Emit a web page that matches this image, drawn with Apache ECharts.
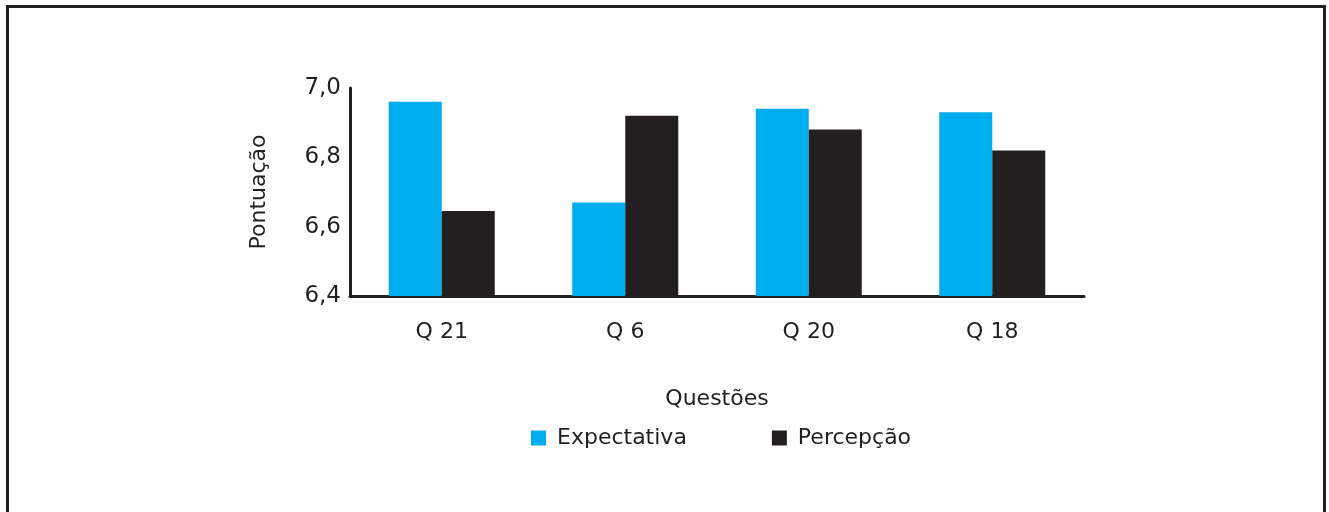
<!DOCTYPE html>
<html>
<head>
<meta charset="utf-8">
<script src="https://cdn.jsdelivr.net/npm/echarts@6/dist/echarts.min.js"></script>
<style>
  html, body { margin: 0; padding: 0; background: #fff; }
  #frame {
    position: absolute; left: 6px; top: 5px; width: 1320px; height: 520px;
    border-top: 3px solid #231f20; border-left: 3px solid #231f20; border-right: 3px solid #231f20;
    box-sizing: border-box;
  }
  #chart { position: absolute; left: 0; top: 0; width: 1329px; height: 512px; }
</style>
</head>
<body>
<div id="frame"></div>
<div id="chart"></div>
<script>
// Scores per question
const categories = ['Q 21', 'Q 6', 'Q 20', 'Q 18'];
const expectativa = [6.96, 6.67, 6.94, 6.93];
const percepcao = [6.645, 6.92, 6.88, 6.82];
const yTicks = { min: 6.4, max: 7.0, interval: 0.2 };

const ink = '#231f20';
const font = 'DejaVu Sans';

const chart = echarts.init(document.getElementById('chart'), null, { renderer: 'canvas' });
chart.setOption({
  animation: false,
  textStyle: { fontFamily: font, color: ink },
  grid: { left: 350, right: 245, top: 88, bottom: 216, containLabel: false },
  legend: {
    top: 422,
    left: 526,
    itemWidth: 15,
    itemHeight: 15,
    itemGap: 85,
    icon: 'rect',
    textStyle: { fontFamily: font, fontSize: 22, color: ink, padding: [0, 0, 0, 6] },
    data: ['Expectativa', 'Percepção']
  },
  xAxis: {
    type: 'category',
    data: categories,
    name: 'Questões',
    nameLocation: 'middle',
    nameGap: 92,
    nameTextStyle: { fontFamily: font, fontSize: 22, color: ink },
    axisLine: { lineStyle: { color: ink, width: 3 } },
    axisTick: { show: false },
    axisLabel: { fontFamily: font, fontSize: 22, color: ink, margin: 25 }
  },
  yAxis: {
    type: 'value',
    min: yTicks.min,
    max: yTicks.max,
    interval: yTicks.interval,
    name: 'Pontuação',
    nameLocation: 'middle',
    nameGap: 80,
    nameRotate: 90,
    nameTextStyle: { fontFamily: font, fontSize: 22, color: ink },
    axisLine: { show: true, lineStyle: { color: ink, width: 3 } },
    axisTick: { show: false },
    splitLine: { show: false },
    axisLabel: {
      fontFamily: font, fontSize: 23, color: ink, margin: 9,
      formatter: v => v.toFixed(1).replace('.', ',')
    }
  },
  series: [
    {
      name: 'Expectativa', type: 'bar', data: expectativa,
      barWidth: 53, barGap: '0%',
      itemStyle: { color: '#00adee' }
    },
    {
      name: 'Percepção', type: 'bar', data: percepcao,
      barWidth: 53, barGap: '0%',
      itemStyle: { color: ink }
    }
  ]
});
</script>
</body>
</html>
